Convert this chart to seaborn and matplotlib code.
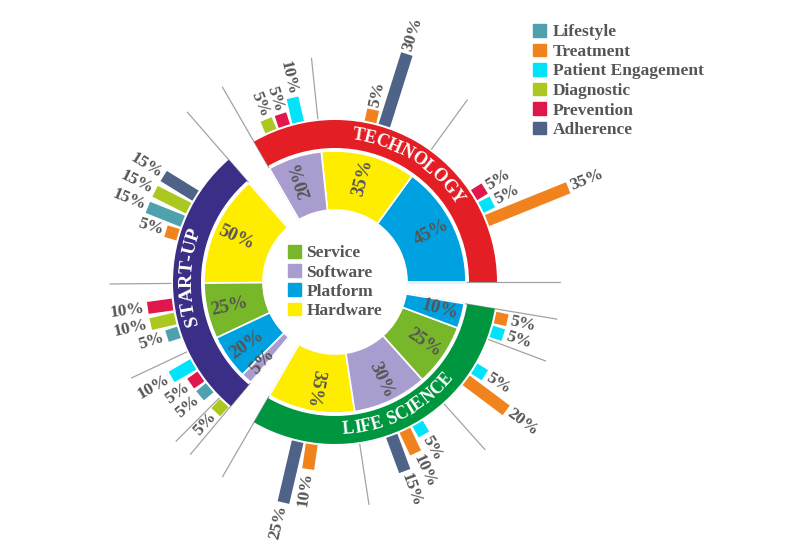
import numpy as np
import matplotlib
matplotlib.use("Agg")
import matplotlib.pyplot as plt
import seaborn as sns
from matplotlib.patches import Patch
from matplotlib.font_manager import FontProperties, findfont, get_font

# ---- data -----------------------------------------------------------------
sector_names = ["TECHNOLOGY", "START-UP", "LIFE SCIENCE"]
sector_colors = ["#E31E24", "#3A2E87", "#00963F"]

product_names = ["Service", "Software", "Platform", "Hardware"]
product_colors = ["#78B72A", "#A99DCF", "#00A1E1", "#FFED00"]

app_names = ["Lifestyle", "Treatment", "Patient Engagement",
             "Diagnostic", "Prevention", "Adherence"]
app_colors = ["#4FA2AD", "#F0831E", "#00E3F8", "#AAC81F", "#E0174D", "#4F6288"]

# product split inside each sector (counter-clockwise order)
tech_products = ["Platform", "Hardware", "Software"]
tech_shares = [45, 35, 20]
startup_products = ["Hardware", "Service", "Platform", "Software"]
startup_shares = [50, 25, 20, 5]
life_products = ["Hardware", "Software", "Service", "Platform"]
life_shares = [35, 30, 25, 10]

# application bars for each product wedge (counter-clockwise order)
tech_apps = [["Treatment", "Patient Engagement", "Prevention"],
             ["Adherence", "Treatment"],
             ["Patient Engagement", "Prevention", "Diagnostic"]]
tech_app_values = [[35, 5, 5], [30, 5], [10, 5, 5]]

startup_apps = [["Adherence", "Diagnostic", "Lifestyle", "Treatment"],
                ["Prevention", "Diagnostic", "Lifestyle"],
                ["Patient Engagement", "Prevention", "Lifestyle"],
                ["Diagnostic"]]
startup_app_values = [[15, 15, 15, 5], [10, 10, 5], [10, 5, 5], [5]]

life_apps = [["Adherence", "Treatment"],
             ["Adherence", "Treatment", "Patient Engagement"],
             ["Treatment", "Patient Engagement"],
             ["Patient Engagement", "Treatment"]]
life_app_values = [[25, 10], [15, 10, 5], [20, 5], [5, 5]]

# ---- layout ---------------------------------------------------------------
sector_spans = [(0, 120), (131, 230), (240, 350.5)]
sector_text_mid = [58, 178, 297]
sector_text_size = [13, 14, 12.8]
sector_text_cw = [True, True, False]

HOLE, WEDGE_OUT = 72, 131
BAND_IN, BAND_OUT = 134, 162
BAR_START, BAR_SCALE = 164, 2.5
LINE_END = 225
GRAY = "#555555"

sns.set_style("white")
plt.rcParams["font.family"] = ["Liberation Serif", "DejaVu Serif"]
plt.rcParams["font.weight"] = "bold"

prod_color = dict(zip(product_names, product_colors))
app_color = dict(zip(app_names, sns.color_palette(app_colors)))

fig = plt.figure(figsize=(8, 5.47), dpi=100)
ax = fig.add_axes([65 / 800, -5 / 547, 540 / 800, 540 / 547], projection="polar")
ax.set_ylim(0, 270)
ax.set_axis_off()


def curved_label(text, mid, radius, clockwise, size):
    fp = FontProperties(family="Liberation Serif", weight="bold", size=size)
    font = get_font(findfont(fp))
    font.set_size(size, 72)
    adv = np.array([font.load_char(ord(ch)).linearHoriAdvance / 65536 for ch in text])
    adv = adv * 100 / 72
    centers = np.cumsum(adv) - adv / 2 - adv.sum() / 2
    for ch, c in zip(text, centers):
        d = np.rad2deg(c / radius)
        if clockwise:
            th, rot = mid - d, mid - d - 90
        else:
            th, rot = mid + d, mid + d + 90
        ax.text(np.deg2rad(th), radius, ch, rotation=rot, rotation_mode="anchor",
                ha="center", va="center", fontproperties=fp, color="white", zorder=6)


def radial_line(deg, r0, r1):
    ax.plot([np.deg2rad(deg)] * 2, [r0, r1], color="#a3a3a3", lw=0.9, zorder=0)


sectors = [
    (tech_products, tech_shares, tech_apps, tech_app_values),
    (startup_products, startup_shares, startup_apps, startup_app_values),
    (life_products, life_shares, life_apps, life_app_values),
]

for i, (prods, shares, apps, vals) in enumerate(sectors):
    a0, a1 = sector_spans[i]
    span = a1 - a0
    # outer coloured band
    ax.bar(np.deg2rad((a0 + a1) / 2), BAND_OUT - BAND_IN, width=np.deg2rad(span),
           bottom=BAND_IN, color=sector_colors[i], edgecolor="none", zorder=2)
    curved_label(sector_names[i], sector_text_mid[i], (BAND_IN + BAND_OUT) / 2,
                 sector_text_cw[i], sector_text_size[i])
    radial_line(a0, HOLE, LINE_END)
    radial_line(a1, HOLE, LINE_END)

    start = a0
    for j, (p, s) in enumerate(zip(prods, shares)):
        w = span * s / sum(shares)
        mid = start + w / 2
        ax.bar(np.deg2rad(mid), WEDGE_OUT - HOLE, width=np.deg2rad(w), bottom=HOLE,
               color=prod_color[p], edgecolor="white", linewidth=1.2, zorder=2)
        rot = mid - 180 if 110 < mid < 250 else mid
        ax.text(np.deg2rad(mid), 108, f"{s}%", rotation=rot, rotation_mode="anchor",
                ha="center", va="center", fontsize=13.5, color=GRAY, zorder=5)
        if j > 0:
            radial_line(start, BAR_START, LINE_END)

        # application bars centred in the wedge, 5 degrees apart
        n = len(apps[j])
        for k, (a, v) in enumerate(zip(apps[j], vals[j])):
            th = mid + (k - (n - 1) / 2) * 5
            r1 = BAR_START + v * BAR_SCALE
            ax.plot([np.deg2rad(th)] * 2, [BAR_START, r1], color=app_color[a],
                    lw=8.6, solid_capstyle="butt", zorder=3)
            if 90 < th < 270:
                ax.text(np.deg2rad(th), r1 + 3, f"{v}%", rotation=th - 180,
                        rotation_mode="anchor", ha="right", va="center",
                        fontsize=12.5, color=GRAY, zorder=5)
            else:
                ax.text(np.deg2rad(th), r1 + 3, f"{v}%", rotation=th,
                        rotation_mode="anchor", ha="left", va="center",
                        fontsize=12.5, color=GRAY, zorder=5)
        start += w

# legends
leg_font = FontProperties(family="Liberation Serif", weight="bold", size=12.5)
prod_handles = [Patch(color=c) for c in product_colors]
ax.legend(prod_handles, product_names, loc="center", bbox_to_anchor=(0.5, 0.5),
          frameon=False, prop=leg_font, labelcolor=GRAY, handlelength=0.75,
          handleheight=0.75, handletextpad=0.3, labelspacing=0.16, borderpad=0)

app_handles = [Patch(color=c) for c in app_colors]
fig.legend(app_handles, app_names, loc="upper left",
           bbox_to_anchor=(533 / 800, 1 - 24 / 547), frameon=False, prop=leg_font,
           labelcolor=GRAY, handlelength=0.75, handleheight=0.75, handletextpad=0.4,
           labelspacing=0.18, borderpad=0, borderaxespad=0)

fig.savefig("out.png", dpi=100)
